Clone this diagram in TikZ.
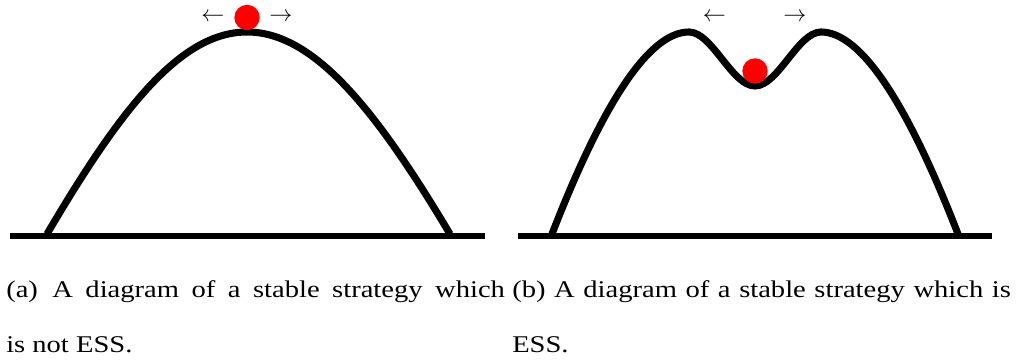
\documentclass[tikz,border=0pt]{standalone}
\usepackage{fontspec}
\setmainfont[FakeStretch=1.19]{Liberation Serif}
\tikzset{
  hill/.style={line width=5.3pt, black},
  ground/.style={line width=5.1pt, black},
  ball/.style={circle, fill=red, draw=none, minimum size=19pt, inner sep=0pt},
  push/.style={inner sep=0pt, font=\fontsize{18}{18}\selectfont, text=black},
  caption/.style={inner sep=0pt, anchor=base west}
}
\newcommand{\capfont}{\fontsize{18}{41}\selectfont}
\begin{document}
\begin{tikzpicture}[x=0.75pt,y=-0.75pt]
\useasboundingbox (0,0) rectangle (1018,363);
% panel (a)
\coordinate (ga1) at (10,236);
\coordinate (ga2) at (485,236);
\draw[ground] (ga1) -- (ga2);
\draw[hill] (47,234) .. controls (120,110) and (180,32) .. (247,32)
             .. controls (314,32) and (376,110) .. (450,234);
\node[ball] (ballA) at (247,17.5) {};
\node[push] (la) at (213,17) {$\leftarrow$};
\node[push] (ra) at (281,17) {$\rightarrow$};
% panel (b)
\coordinate (gb1) at (518,236);
\coordinate (gb2) at (992,236);
\draw[ground] (gb1) -- (gb2);
\draw[hill] (552,234) .. controls (604,100) and (650,32) .. (689,32)
             .. controls (712,32) and (732,86) .. (755,86)
             .. controls (778,86) and (798,32) .. (821,32)
             .. controls (860,32) and (906,100) .. (958,234);
\node[ball] (ballB) at (755,71) {};
\node[push] (lb) at (714.5,17) {$\leftarrow$};
\node[push] (rb) at (795,17) {$\rightarrow$};
% captions
\node[caption] (capA) at (6,298) {\parbox[t]{374pt}{\capfont (a)\hspace{0.6em}A diagram of a stable strategy which\linebreak is not ESS.}};
\node[caption] (capB) at (512,298) {\parbox[t]{374pt}{\capfont (b) A diagram of a stable strategy which is\linebreak ESS.}};
\end{tikzpicture}
\end{document}
